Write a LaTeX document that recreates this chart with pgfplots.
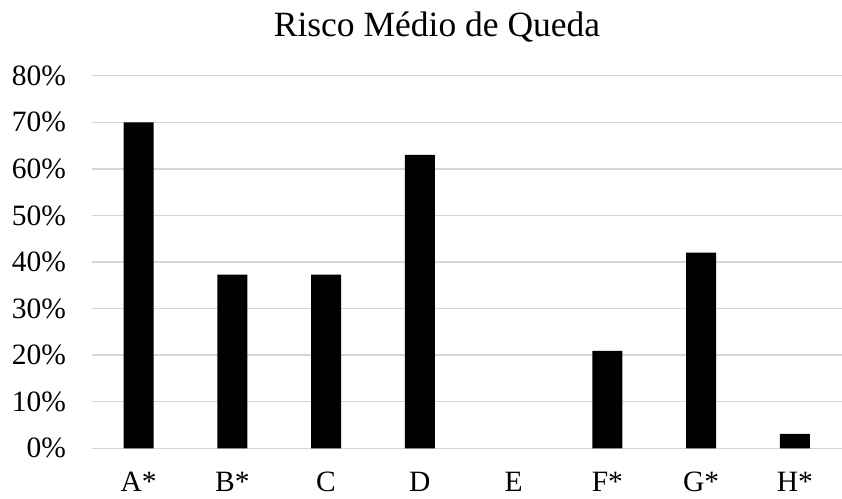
\documentclass[border=0pt]{standalone}
\usepackage{pgfplots}
\pgfplotsset{compat=1.18}
\usepackage{fontspec}
\setmainfont{Liberation Serif}
\definecolor{gridgray}{RGB}{214,214,214}
\begin{document}
\begin{tikzpicture}[x=1pt,y=1pt]
\path[use as bounding box] (0,0) rectangle (842,498);
\node[anchor=base, inner sep=0pt, font=\fontsize{35.5}{42}\selectfont] at (437,461) {Risco Médio de Queda};
\begin{axis}[
  at={(91.7pt,49.7pt)}, anchor=south west,
  scale only axis, width=750pt, height=372.6pt,
  xmin=-0.5, xmax=7.5, ymin=0, ymax=80,
  ybar, bar width=30pt,
  xtick={0,...,7},
  xticklabels={A*,B*,C,D,E,F*,G*,H*},
  ytick={0,10,...,80},
  yticklabels={0\%,10\%,20\%,30\%,40\%,50\%,60\%,70\%,80\%},
  axis line style={draw=none},
  major tick length=0pt,
  tick style={draw=none},
  ymajorgrids,
  major grid style={draw=gridgray, line width=1.5pt},
  ticklabel style={font=\fontsize{29.5}{34}\selectfont},
  xticklabel style={anchor=base, inner sep=0pt, yshift=-43.5pt},
  yticklabel style={anchor=east, inner sep=0pt, xshift=-25.5pt},
  clip=false,
]
% E (x=4) has value 0 and draws no bar
\addplot[fill=black, draw=none] coordinates {
  (0,70) (1,37.3) (2,37.3) (3,63) (5,20.9) (6,42) (7,3.1)
};
\end{axis}
\end{tikzpicture}
\end{document}
